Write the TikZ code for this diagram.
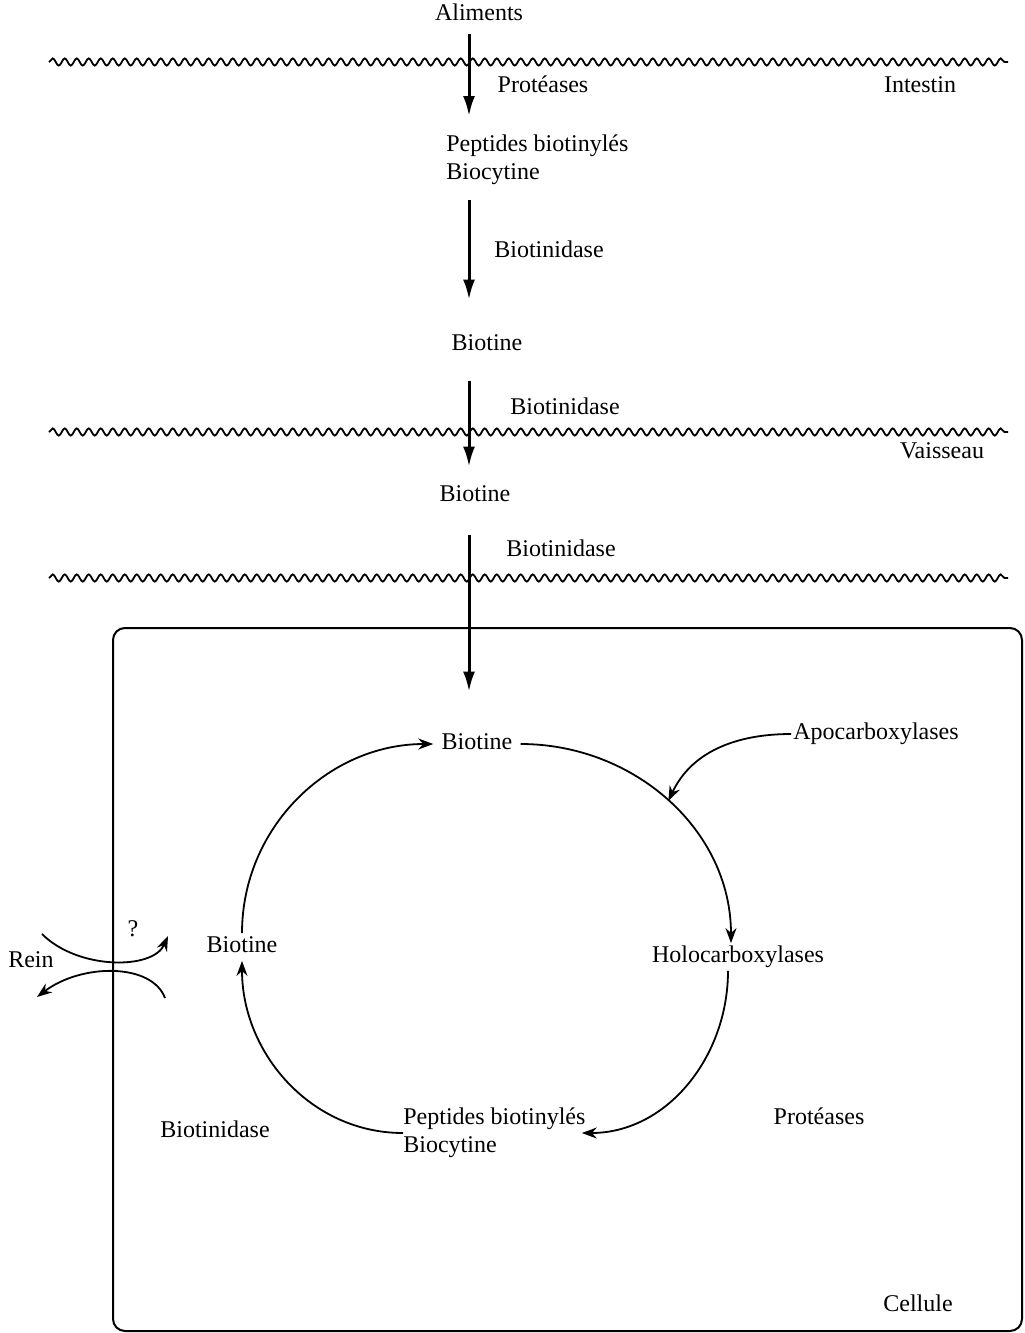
\documentclass[tikz,border=0pt]{standalone}
\usepackage{fontspec}
\setmainfont{Liberation Serif}
\usepackage{tikz}
\usetikzlibrary{arrows.meta}
\usetikzlibrary{decorations.pathmorphing}
\tikzset{lbl/.style={inner xsep=0pt, inner ysep=0pt, text height=8pt, text depth=2.5pt}}
\tikzset{twolines/.style={inner sep=0pt, align=left, anchor=west}}
\tikzset{stage/.style={inner xsep=4pt, inner ysep=1.5pt, text height=8pt, text depth=2.5pt}}
\tikzset{flow/.style={line width=1.5pt, -{Latex[length=10pt,width=6pt]}}}
\tikzset{cyc/.style={line width=0.9pt, -{Stealth[length=7.5pt,width=5.5pt]}}}
\tikzset{wave/.style={line width=0.9pt, decorate, decoration={snake, segment length=6pt, amplitude=1.8pt}}}

\begin{document}
\begin{tikzpicture}[x=0.5pt,y=0.5pt,font=\fontsize{12pt}{14pt}\selectfont]
\useasboundingbox (0,0) rectangle (1024,-1333);
\coordinate (spine) at (469,0);
% membranes
\draw[wave] (49,-62) -- (1008,-62);
\draw[wave] (49,-432) -- (1008,-432);
\draw[wave] (49,-578) -- (1008,-578);
% cellule
\draw[line width=1pt, rounded corners=6pt] (113,-628) rectangle (1022,-1331);

% intestin et vaisseau
\node[lbl] (aliments) at (479,-15) {Aliments};
\node[lbl] (proteasesA) at (543,-87) {Protéases};
\node[lbl] (intestin) at (920,-87) {Intestin};
\node[twolines] (pepA) at (446,-160) {Peptides biotinylés\\Biocytine};
\node[lbl] (bnaseA) at (549,-252) {Biotinidase};
\node[lbl] (biotineA) at (487,-345) {Biotine};
\node[lbl] (bnaseB) at (565,-409) {Biotinidase};
\node[lbl] (vaisseau) at (942,-453) {Vaisseau};
\node[lbl] (biotineB) at (475,-496) {Biotine};
\node[lbl] (bnaseC) at (561,-551) {Biotinidase};

% cycle dans la cellule
\node[stage] (biotineC) at (477,-744) {Biotine};
\node[lbl, anchor=west, inner xsep=1pt] (apo) at (791,-734) {Apocarboxylases};
\node[stage] (holo) at (738,-957) {Holocarboxylases};
\node[twolines] (pepB) at (403,-1133) {Peptides biotinylés\\Biocytine};
\node[stage] (biotineL) at (242,-947) {Biotine};
\node[lbl] (proteasesB) at (819,-1119) {Protéases};
\node[lbl] (bnaseD) at (215,-1132) {Biotinidase};
\node[lbl] (cellule) at (918,-1306) {Cellule};

\draw[flow, shorten <=4.25pt, shorten >=9.3pt] (aliments.south -| spine) -- (pepA.north -| spine);
\draw[flow, shorten <=7.4pt, shorten >=17.25pt] (pepA.south -| spine) -- (biotineA.north -| spine);
\draw[flow, shorten <=12.75pt, shorten >=9.25pt] (biotineA.south -| spine) -- (biotineB.north -| spine);
\draw[flow, shorten <=14.25pt, shorten >=19.25pt] (biotineB.south -| spine) -- (biotineC.north -| spine);

\draw[cyc] (biotineC.east) to[out=0,in=90] coordinate[pos=0.5] (apoJoin) ([xshift=-3.5pt]holo.north);
\draw[cyc] ([xshift=-5pt]holo.south) to[out=-90,in=0] ([xshift=-2pt]pepB.east);
\draw[cyc] (pepB.west) to[out=180,in=-90] (biotineL.south);
\draw[cyc] (biotineL.north) to[out=90,in=180] (biotineC.west);
\draw[cyc] (apo.west) to[out=180,in=65] (apoJoin);

% rein
\node[lbl] (rein) at (31,-962) {Rein};
\node[lbl] (quest) at (133,-931) {?};
\coordinate (reinOut) at (42,-934);
\coordinate (cellIn) at (168,-936);
\coordinate (cellOut) at (165,-998);
\coordinate (reinIn) at (37,-997);
\draw[cyc] (reinOut) .. controls (78,-970) and (153,-970) .. (cellIn);
\draw[cyc] (cellOut) .. controls (152,-963) and (82,-963) .. (reinIn);
\end{tikzpicture}
\end{document}
